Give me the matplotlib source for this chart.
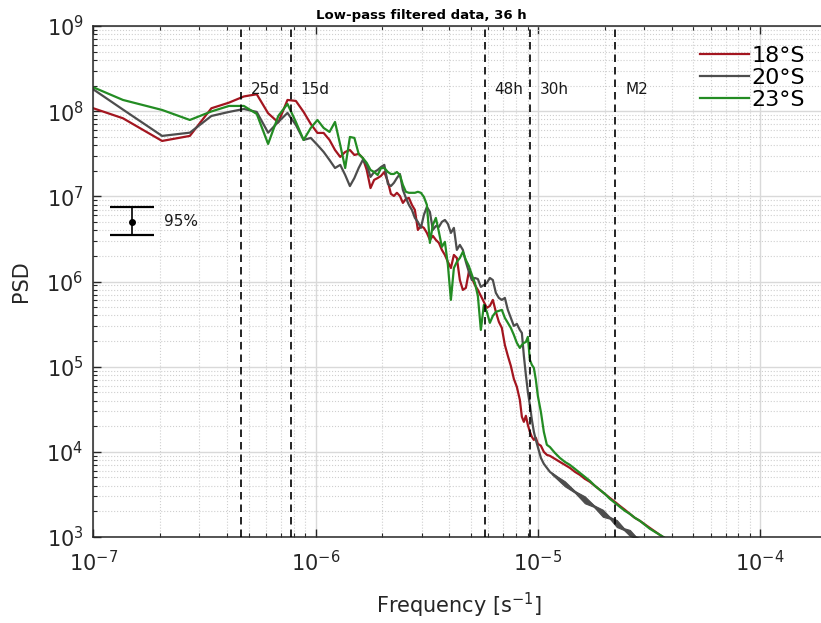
import numpy as np
import matplotlib
matplotlib.use("Agg")
import matplotlib.pyplot as plt
from matplotlib.ticker import LogLocator, NullFormatter

# Frequency axis [1/s], shared by the three spectra
freq = [6.80e-8, 1.36e-7, 2.04e-7, 2.72e-7, 3.40e-7, 4.08e-7, 4.76e-7, 5.44e-7, 6.12e-7, 6.80e-7,
        7.48e-7, 8.16e-7, 8.84e-7, 9.52e-7, 1.020e-6, 1.088e-6, 1.156e-6, 1.224e-6, 1.292e-6, 1.360e-6,
        1.428e-6, 1.496e-6, 1.564e-6, 1.632e-6, 1.700e-6, 1.768e-6, 1.836e-6, 1.904e-6, 1.972e-6, 2.040e-6,
        2.117e-6, 2.184e-6, 2.253e-6, 2.324e-6, 2.397e-6, 2.473e-6, 2.551e-6, 2.632e-6, 2.715e-6, 2.800e-6,
        2.888e-6, 2.980e-6, 3.074e-6, 3.171e-6, 3.271e-6, 3.374e-6, 3.480e-6, 3.590e-6, 3.704e-6, 3.821e-6,
        3.941e-6, 4.066e-6, 4.194e-6, 4.325e-6, 4.462e-6, 4.603e-6, 4.748e-6, 4.898e-6, 5.053e-6, 5.212e-6,
        5.377e-6, 5.546e-6, 5.722e-6, 5.902e-6, 6.089e-6, 6.281e-6, 6.479e-6, 6.683e-6, 6.894e-6, 7.112e-6,
        7.336e-6, 7.568e-6, 7.807e-6, 8.054e-6, 8.307e-6, 8.483e-6, 8.660e-6, 8.842e-6, 9.027e-6, 9.217e-6,
        9.408e-6, 9.605e-6, 9.806e-6, 1.001e-5, 1.033e-5, 1.065e-5, 1.099e-5, 1.134e-5, 1.194e-5, 1.257e-5,
        1.324e-5, 1.394e-5, 1.469e-5, 1.547e-5, 1.629e-5, 1.715e-5, 1.807e-5, 1.903e-5, 2.004e-5, 2.110e-5,
        2.223e-5, 2.341e-5, 2.466e-5, 2.597e-5, 2.735e-5, 2.880e-5, 3.194e-5, 3.543e-5, 3.929e-5, 4.358e-5]

psd_18s = [1.52e8, 8.25e7, 4.47e7, 5.12e7, 1.081e8, 1.259e8, 1.488e8, 1.579e8, 9.45e7, 7.37e7,
           1.354e8, 1.318e8, 9.79e7, 7.08e7, 5.55e7, 5.55e7, 4.59e7, 3.50e7, 2.90e7, 3.32e7,
           3.50e7, 3.06e7, 3.15e7, 2.82e7, 2.04e7, 1.25e7, 1.56e7, 1.64e7, 1.74e7, 1.93e7,
           1.48e7, 1.07e7, 1.01e7, 1.10e7, 1.01e7, 8.37e6, 9.32e6, 9.58e6, 7.93e6, 6.92e6,
           4.03e6, 4.49e6, 4.26e6, 3.72e6, 3.08e6, 3.43e6, 3.08e6, 2.84e6, 2.35e6, 2.05e6,
           1.70e6, 1.44e6, 2.05e6, 1.89e6, 1.04e6, 7.97e5, 8.41e5, 1.30e6, 1.10e6, 9.12e5,
           7.97e5, 6.78e5, 5.76e5, 4.90e5, 5.17e5, 6.08e5, 4.40e5, 3.36e5, 2.85e5, 1.80e5,
           1.34e5, 1.02e5, 7.19e4, 5.79e4, 4.08e4, 2.58e4, 2.25e4, 2.65e4, 2.07e4, 1.72e4,
           1.50e4, 1.38e4, 1.46e4, 1.24e4, 1.18e4, 1.00e4, 9.22e3, 8.98e3, 8.28e3, 7.63e3,
           7.04e3, 6.49e3, 5.83e3, 5.37e3, 4.82e3, 4.45e3, 3.99e3, 3.58e3, 3.21e3, 2.88e3,
           2.59e3, 2.32e3, 2.09e3, 1.87e3, 1.68e3, 1.55e3, 1.28e3, 1.06e3, 879, 727]

psd_20s = [3.58e8, 1.044e8, 5.12e7, 5.59e7, 8.78e7, 9.79e7, 1.061e8, 9.79e7, 5.59e7, 7.47e7,
           9.53e7, 6.89e7, 4.59e7, 4.85e7, 4.01e7, 3.32e7, 2.67e7, 2.15e7, 2.34e7, 1.78e7,
           1.32e7, 1.64e7, 2.15e7, 2.67e7, 2.34e7, 1.69e7, 1.93e7, 2.04e7, 2.21e7, 2.34e7,
           1.40e7, 1.32e7, 1.44e7, 1.64e7, 1.83e7, 1.19e7, 9.58e6, 7.93e6, 6.92e6, 5.58e6,
           5.01e6, 4.26e6, 6.05e6, 7.51e6, 6.56e6, 4.03e6, 4.49e6, 4.37e6, 5.01e6, 5.28e6,
           4.75e6, 3.72e6, 4.26e6, 2.35e6, 2.69e6, 2.35e6, 1.70e6, 1.30e6, 1.04e6, 1.10e6,
           1.07e6, 8.64e5, 9.12e5, 9.63e5, 1.10e6, 1.04e6, 7.35e5, 6.42e5, 6.08e5, 6.42e5,
           4.64e5, 3.74e5, 3.01e5, 3.18e5, 2.70e5, 2.49e5, 1.34e5, 8.01e4, 5.06e4, 3.56e4,
           2.38e4, 1.72e4, 1.38e4, 1.14e4, 8.50e3, 7.23e3, 6.49e3, 5.83e3, 5.23e3, 4.69e3,
           4.21e3, 3.78e3, 3.39e3, 3.05e3, 2.73e3, 2.52e3, 2.26e3, 2.03e3, 1.82e3, 1.68e3,
           1.51e3, 1.35e3, 1.21e3, 1.12e3, 1.006e3, 927, 788, 670, 570, 485]

psd_23s = [2.93e8, 1.354e8, 1.033e8, 7.88e7, 9.92e7, 1.151e8, 1.151e8, 9.27e7, 4.12e7, 8.78e7,
           1.215e8, 7.47e7, 4.59e7, 6.35e7, 7.88e7, 6.35e7, 5.70e7, 7.47e7, 4.01e7, 2.15e7,
           4.98e7, 4.85e7, 3.15e7, 2.82e7, 2.47e7, 2.04e7, 1.93e7, 1.78e7, 2.15e7, 2.15e7,
           1.93e7, 1.83e7, 1.83e7, 1.93e7, 1.78e7, 1.36e7, 1.13e7, 1.10e7, 1.10e7, 1.10e7,
           1.13e7, 1.10e7, 9.84e6, 7.93e6, 2.84e6, 4.62e6, 5.58e6, 3.82e6, 2.55e6, 2.92e6,
           1.57e6, 6.08e5, 1.44e6, 1.70e6, 1.89e6, 2.23e6, 1.79e6, 1.52e6, 1.20e6, 9.63e5,
           6.78e5, 2.70e5, 5.31e5, 4.40e5, 3.27e5, 3.95e5, 4.40e5, 4.52e5, 4.64e5, 3.74e5,
           3.27e5, 2.85e5, 2.36e5, 1.90e5, 1.66e5, 1.80e5, 1.90e5, 1.95e5, 2.24e5, 1.20e5,
           1.05e5, 9.68e4, 7.00e4, 4.54e4, 2.95e4, 1.72e4, 1.21e4, 1.14e4, 9.73e3, 8.50e3,
           7.63e3, 7.04e3, 6.32e3, 5.67e3, 5.09e3, 4.57e3, 3.99e3, 3.58e3, 3.21e3, 2.81e3,
           2.52e3, 2.26e3, 2.03e3, 1.87e3, 1.68e3, 1.55e3, 1.25e3, 1.06e3, 902, 747]

# envelope of the beaded 20°S tail
band_freq = [1.157e-5, 1.231e-5, 1.324e-5, 1.469e-5, 1.629e-5, 1.788e-5, 1.963e-5,
             2.110e-5, 2.269e-5, 2.441e-5, 2.597e-5, 2.763e-5, 2.941e-5]
band_hi = [5.70e3, 5.10e3, 4.51e3, 3.47e3, 3.00e3, 2.36e3, 2.09e3, 1.72e3, 1.58e3, 1.27e3, 1.21e3, 1011, 952]
band_lo = [5.46e3, 4.70e3, 3.94e3, 3.32e3, 2.49e3, 2.26e3, 1.73e3, 1.64e3, 1.31e3, 1.21e3, 1033, 968, 855]

# reference periods (25 d, 15 d, 48 h, 30 h, M2 tide)
period_labels = ["25d", "15d", "48h", "30h", "M2"]
period_freq = [4.63e-7, 7.72e-7, 5.79e-6, 9.26e-6, 2.236e-5]

# 95 % confidence bar
ci_freq = 1.5e-7
ci_mid = 5.0e6
ci_lo = 3.52e6
ci_hi = 7.51e6

series = [("18°S", psd_18s, "#a3151f"), ("20°S", psd_20s, "#4d4d4d"), ("23°S", psd_23s, "#238c23")]

fig = plt.figure(figsize=(8.21, 6.23), dpi=100)
ax = fig.add_axes([0.1136, 0.138, 0.8912, 0.8203])

for label, psd, color in series:
    ax.loglog(freq, psd, color=color, lw=1.6, label=label, zorder=2)
    if label == "20°S":
        ax.fill_between(band_freq, band_lo, band_hi, color=color, lw=0.8, zorder=2)

for lab, f in zip(period_labels, period_freq):
    ax.axvline(f, color="black", ls=(0, (4.5, 3)), lw=1.2, zorder=3)
    ax.annotate(lab, xy=(f, 1.82e8), xytext=(7, 0), textcoords="offset points",
                va="center", ha="left", fontsize=11, color="#1a1a1a")

ax.errorbar([ci_freq], [ci_mid], yerr=[[ci_mid - ci_lo], [ci_hi - ci_mid]], fmt="o",
            color="black", ms=4, capsize=16, elinewidth=1.2, capthick=1.6, zorder=4)
ax.annotate("95%", xy=(ci_freq, ci_mid), xytext=(23, 0), textcoords="offset points",
            va="center", ha="left", fontsize=11, color="#1a1a1a")

ax.set_xlim(1e-7, 1.96e-4)
ax.set_ylim(1e3, 1e9)

ax.xaxis.set_major_locator(LogLocator(base=10, numticks=20))
ax.yaxis.set_major_locator(LogLocator(base=10, numticks=20))
for axis in (ax.xaxis, ax.yaxis):
    axis.set_minor_locator(LogLocator(base=10, subs=np.arange(2, 10), numticks=100))
    axis.set_minor_formatter(NullFormatter())

ax.grid(True, which="major", color="#d9d9d9", lw=1.0, ls="-")
ax.grid(True, which="minor", color="#cfcfcf", lw=0.8, ls=":")
ax.set_axisbelow(True)

ax.tick_params(which="both", direction="in", top=True, right=False, colors="#262626", labelsize=15)
ax.tick_params(which="major", length=6, width=1.0)
ax.tick_params(which="minor", length=3, width=0.8)
ax.tick_params(axis="y", pad=7)
ax.tick_params(axis="x", pad=9)
for side in ("left", "bottom", "top"):
    ax.spines[side].set_color("#262626")
    ax.spines[side].set_linewidth(1.1)
ax.spines["right"].set_visible(False)

ax.set_xlabel("Frequency [s$^{-1}$]", fontsize=15, color="#262626")
ax.set_ylabel("PSD", fontsize=15, color="#262626")
ax.xaxis.set_label_coords(0.4995, -0.106)
ax.yaxis.set_label_coords(-0.085, 0.5)

fig.text(421 / 821, 1 - 16 / 623, "Low-pass filtered data, 36 h", ha="center", va="center",
         fontsize=9.5, fontweight="bold")

ax.legend(loc="upper left", bbox_to_anchor=(700 / 821, 1 - 46 / 623), bbox_transform=fig.transFigure,
          frameon=False, fontsize=16, handlelength=2.2, handletextpad=0.1, labelspacing=0.08,
          borderpad=0, borderaxespad=0)

fig.savefig("out.png", dpi=100)
